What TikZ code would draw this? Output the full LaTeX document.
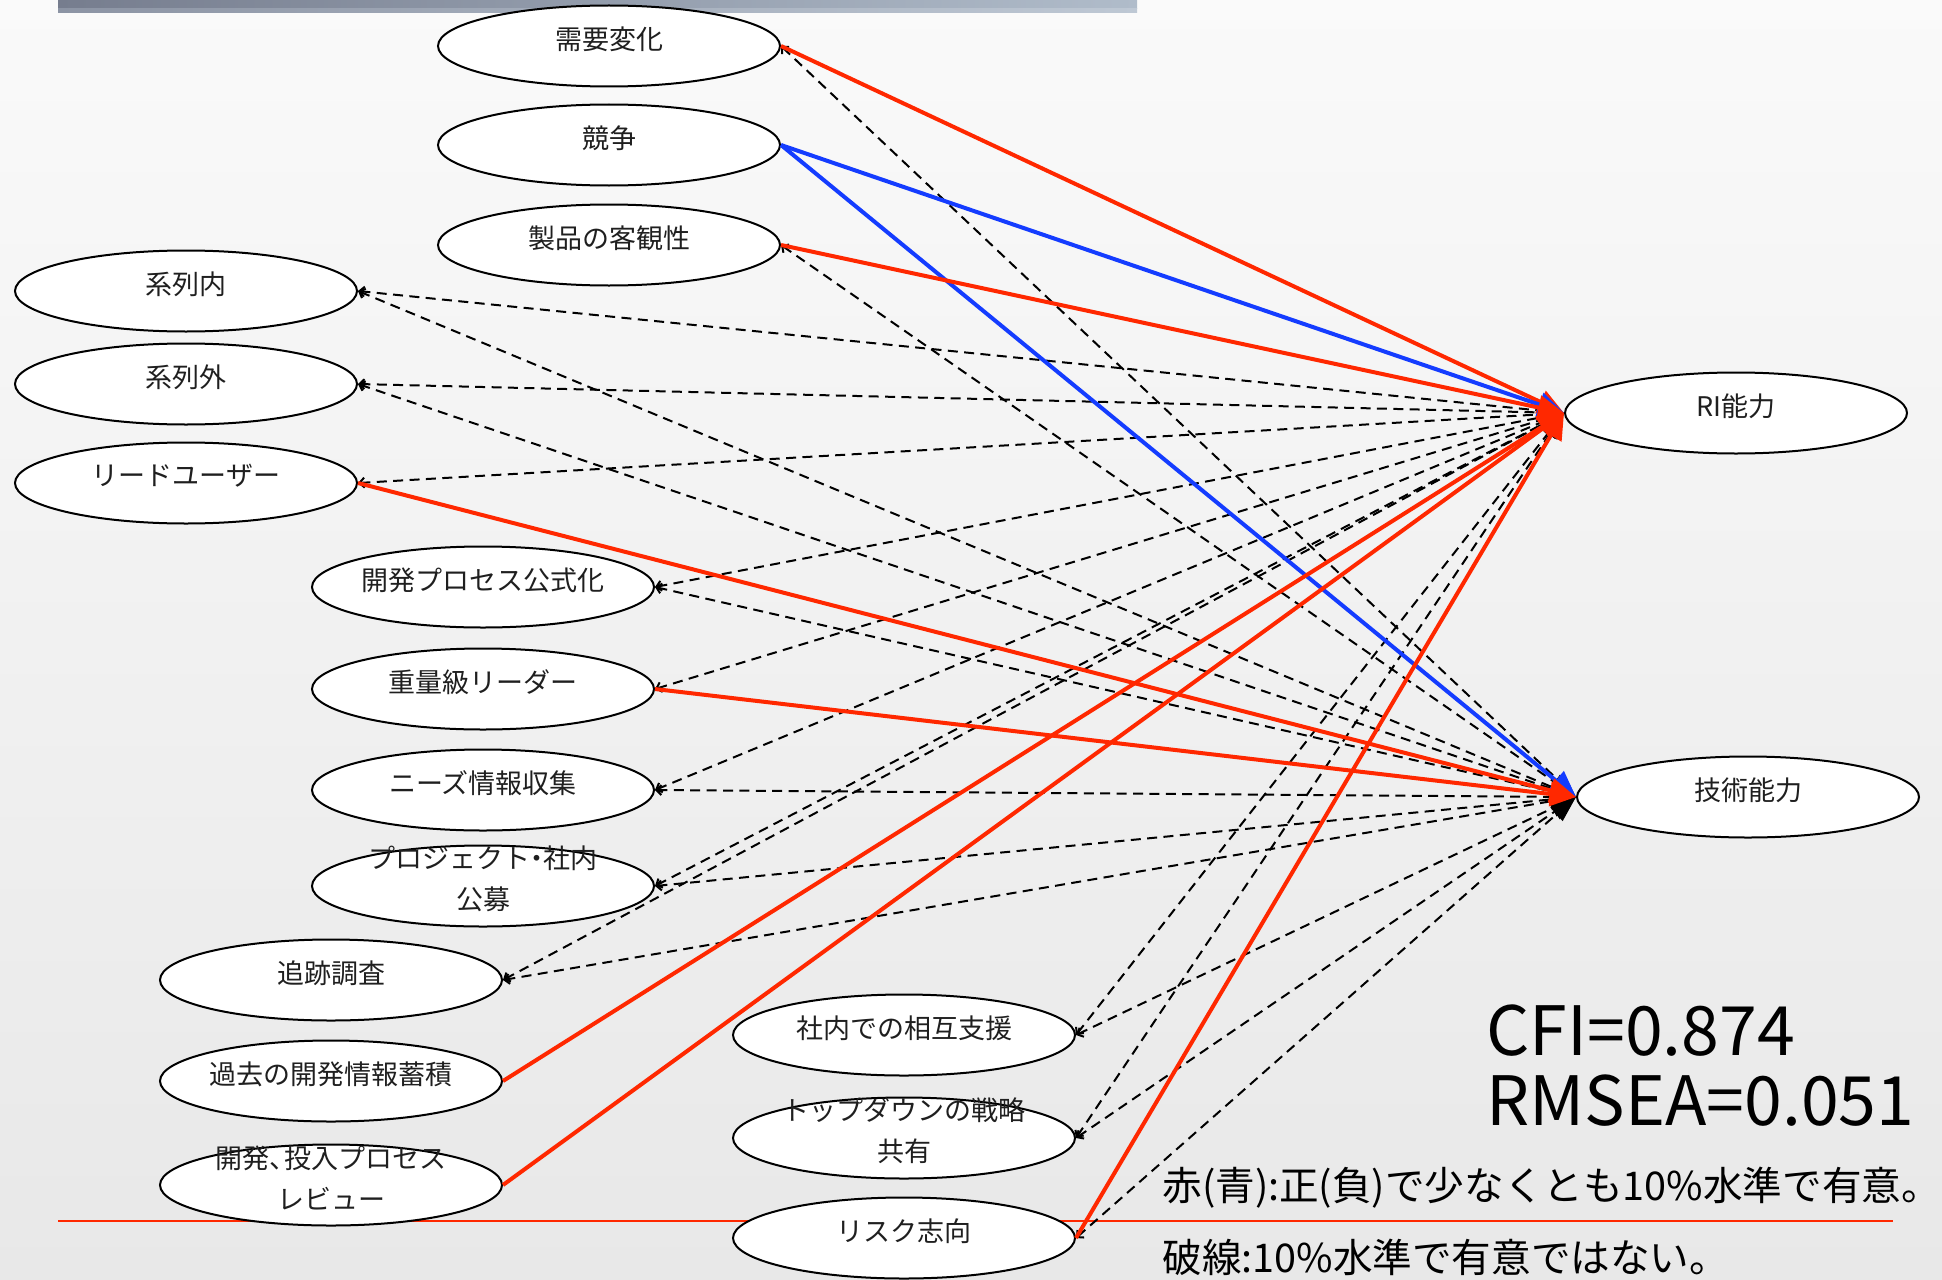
\documentclass[tikz,border=0pt]{standalone}
\usepackage{fontspec}
\setmainfont{Noto Sans CJK JP}
\usetikzlibrary{arrows.meta,shapes.geometric}
\definecolor{rd}{RGB}{255,40,0}
\definecolor{bl}{RGB}{20,60,255}
\definecolor{barL}{RGB}{118,125,142}
\definecolor{barR}{RGB}{176,188,202}
\definecolor{barLb}{RGB}{140,148,164}
\definecolor{barRb}{RGB}{190,200,212}
\begin{document}
\begin{tikzpicture}[x=0.5pt,y=-0.5pt,
  el/.style={ellipse, draw=black, line width=1pt, fill=white, minimum width=171pt, minimum height=40.5pt, inner sep=0pt},
  lbl/.style={font=\fontsize{13.5pt}{20.5pt}\selectfont, align=center, text=black!88, inner sep=0pt, yshift=3.5pt},
  sigE/.style={line width=2pt, -{Triangle[length=13pt,width=12pt]}},
  posE/.style={sigE, draw=rd},
  negE/.style={sigE, draw=bl},
  nsE/.style={line width=1pt, draw=black, dash pattern=on 5pt off 3.2pt, {Straight Barb[length=2.5pt,width=5pt]}-{Triangle[length=13pt,width=9pt]}}
]
\useasboundingbox (0,0) rectangle (1942,1279);
\shade[top color=white!98!black, bottom color=white!91!black] (0,0) rectangle (1942,1279);
\shade[left color=barL, right color=barR] (58,0) rectangle (1137,9);
\shade[left color=barLb, right color=barRb] (58,9) rectangle (1137,13);
\draw[rd, line width=0.6pt] (58,1221) -- (1893,1221);

% ellipses
\node[el] (juyo) at (609,46) {};
\node[el] (kyoso) at (609,145) {};
\node[el] (seihin) at (609,245) {};
\node[el] (keiin) at (186,291) {};
\node[el] (keigai) at (186,384) {};
\node[el] (lead) at (186,483) {};
\node[el] (kaihatsu) at (483,587) {};
\node[el] (jyuryo) at (483,689) {};
\node[el] (needs) at (483,790) {};
\node[el] (proj) at (483,886) {};
\node[el] (tsuiseki) at (331,980) {};
\node[el] (kako) at (331,1081) {};
\node[el] (review) at (331,1185) {};
\node[el] (shanai) at (904,1035) {};
\node[el] (topdown) at (904,1138) {};
\node[el] (risk) at (904,1238) {};
\node[el] (RI) at (1736,413) {};
\node[el] (gijutsu) at (1748,797) {};

% non-significant paths
\draw[nsE] (juyo.east) -- (gijutsu.west);
\draw[nsE] (seihin.east) -- (gijutsu.west);
\draw[nsE] (keiin.east) -- (RI.west);
\draw[nsE] (keiin.east) -- (gijutsu.west);
\draw[nsE] (keigai.east) -- (RI.west);
\draw[nsE] (keigai.east) -- (gijutsu.west);
\draw[nsE] (lead.east) -- (RI.west);
\draw[nsE] (kaihatsu.east) -- (RI.west);
\draw[nsE] (kaihatsu.east) -- (gijutsu.west);
\draw[nsE] (jyuryo.east) -- (RI.west);
\draw[nsE] (needs.east) -- (RI.west);
\draw[nsE] (needs.east) -- (gijutsu.west);
\draw[nsE] (proj.east) -- (RI.west);
\draw[nsE] (proj.east) -- (gijutsu.west);
\draw[nsE] (tsuiseki.east) -- (RI.west);
\draw[nsE] (tsuiseki.east) -- (gijutsu.west);
\draw[nsE] (shanai.east) -- (RI.west);
\draw[nsE] (shanai.east) -- (gijutsu.west);
\draw[nsE] (topdown.east) -- (RI.west);
\draw[nsE] (topdown.east) -- (gijutsu.west);
\draw[nsE] (risk.east) -- (gijutsu.west);

% significant paths
\draw[posE] (juyo.east) -- (RI.west);
\draw[negE] (kyoso.east) -- (RI.west);
\draw[negE] (kyoso.east) -- (gijutsu.west);
\draw[posE] (seihin.east) -- (RI.west);
\draw[posE] (lead.east) -- (gijutsu.west);
\draw[posE] (jyuryo.east) -- (gijutsu.west);
\draw[posE] (kako.east) -- (RI.west);
\draw[posE] (review.east) -- (RI.west);
\draw[posE] (risk.east) -- (RI.west);

% labels
\node[lbl] (juyo-t) at (juyo) {需要変化};
\node[lbl] (kyoso-t) at (kyoso) {競争};
\node[lbl] (seihin-t) at (seihin) {製品の客観性};
\node[lbl] (keiin-t) at (keiin) {系列内};
\node[lbl] (keigai-t) at (keigai) {系列外};
\node[lbl] (lead-t) at (lead) {リードユーザー};
\node[lbl] (kaihatsu-t) at (kaihatsu) {開発プロセス公式化};
\node[lbl] (jyuryo-t) at (jyuryo) {重量級リーダー};
\node[lbl] (needs-t) at (needs) {ニーズ情報収集};
\node[lbl] (proj-t) at (proj) {プロジェクト\kern-0.25em・\kern-0.25em社内\\公募};
\node[lbl] (tsuiseki-t) at (tsuiseki) {追跡調査};
\node[lbl] (kako-t) at (kako) {過去の開発情報蓄積};
\node[lbl] (review-t) at (review) {開発、\kern-0.45em投入プロセス\\レビュー};
\node[lbl] (shanai-t) at (shanai) {社内での相互支援};
\node[lbl] (topdown-t) at (topdown) {トップダウンの戦略\\共有};
\node[lbl] (risk-t) at (risk) {リスク志向};
\node[lbl] (RI-t) at (RI) {RI能力};
\node[lbl] (gijutsu-t) at (gijutsu) {技術能力};

% fit indices and legend
\node[anchor=base west, inner sep=0pt, font=\fontsize{34pt}{34pt}\selectfont] (cfi) at (1486,1055) {CFI=0.874};
\node[anchor=base west, inner sep=0pt, font=\fontsize{34pt}{34pt}\selectfont] (rmsea) at (1486,1125) {RMSEA=0.051};
\node[anchor=west, inner sep=0pt, font=\fontsize{19.8pt}{19.8pt}\selectfont] (leg1) at (1162,1188) {赤(青):正(負)で少なくとも10\%水準で有意。};
\node[anchor=west, inner sep=0pt, font=\fontsize{19.8pt}{19.8pt}\selectfont] (leg2) at (1162,1257) {破線:10\%水準で有意ではない。};
\end{tikzpicture}
\end{document}
